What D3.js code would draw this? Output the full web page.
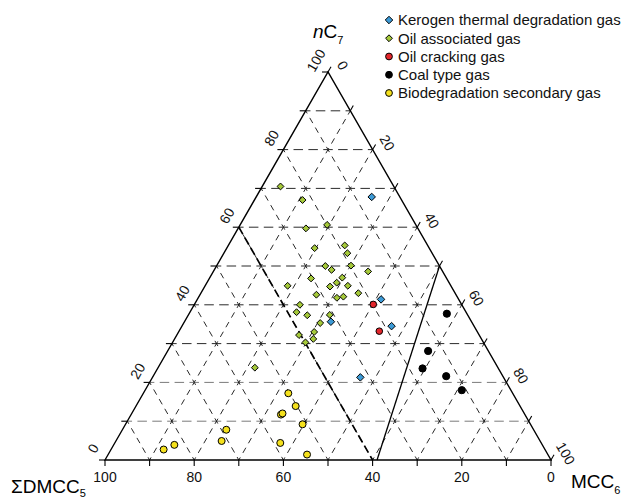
<!DOCTYPE html>
<html><head><meta charset="utf-8">
<script src="https://cdn.jsdelivr.net/npm/d3@7"></script>
<style>body{margin:0;background:#fff}svg{display:block}text{font-family:Arial,"Liberation Sans",sans-serif}</style>
</head><body>
<script>
// each point: [ΣDMCC5, nC7, MCC6] (%)
const kerogenGas = [[6.3,67.8,25.9],[17.4,41.4,41.2],[31.5,35.6,32.8],[18.5,34.5,47.0],[32.1,21.3,46.6]];
const oilAssociatedGas = [[25.4,70.5,4.1],[22.2,67.0,10.8],[25.1,59.7,15.2],[19.9,60.6,19.5],[25.7,54.6,19.7],
 [18.6,55.3,26.1],[19.0,53.3,27.7],[25.6,50.0,24.4],[24.7,49.0,26.3],[19.8,50.1,30.1],[16.7,48.6,34.7],
 [30.4,46.8,22.8],[23.3,47.0,29.7],[36.6,44.9,18.5],[27.2,44.7,28.1],[25.2,45.7,29.1],[23.1,44.9,32.0],
 [21.7,43.0,35.3],[31.3,42.6,26.1],[27.1,41.8,31.1],[25.5,42.1,32.4],[36.3,40.0,23.7],[38.0,38.1,23.9],
 [36.0,37.3,26.7],[30.9,37.4,31.7],[34.1,35.3,30.6],[40.4,32.2,27.4],[36.6,33.0,30.4],[37.7,31.2,31.1],
 [39.9,30.3,29.8],[54.5,23.8,21.7]];
const oilCrackingGas = [[19.8,40.1,40.1],[21.9,33.2,44.9]];
const coalTypeGas = [[4.5,37.7,57.8],[13.5,28.1,58.4],[17.0,23.6,59.4],[12.7,21.6,65.7],[11.0,18.0,71.0]];
const biodegradationGas = [[50.3,17.2,32.5],[50.3,13.9,35.8],[54.7,11.7,33.6],[54.2,12.0,33.8],[51.1,9.2,39.7],
 [68.9,7.8,23.3],[71.4,4.9,23.7],[58.5,4.4,37.1],[82.5,3.9,13.6],[85.5,2.7,11.8],[54.0,1.4,44.6]];
const tickValues = [0,10,20,30,40,50,60,70,80,90,100];
const labelValues = [0,20,40,60,80,100];
const legendLabels = ["Kerogen thermal degradation gas","Oil associated gas","Oil cracking gas","Coal type gas","Biodegradation secondary gas"];
const dividerDashed = [[40,60,0],[40,0,60]];
const dividerSolid = [[0,50,50],[39,0,61]];

const W=633,H=498;
const svg=d3.select("body").append("svg").attr("width",W).attr("height",H);
const L=[105,460],T=[328,72],R=[551,460];
const f=d3.scaleLinear().domain([0,100]).range([0,1]);
function P(d){const a=f(d[0]),b=f(d[1]),c=f(d[2]);const s=a+b+c;
  return [(a*L[0]+b*T[0]+c*R[0])/s,(a*L[1]+b*T[1]+c*R[1])/s];}
const line=d3.line();

// grid
const g=svg.append("g");
tickValues.slice(1,-1).forEach(v=>{
  g.append("path").attr("d",line([P([100-v,v,0]),P([0,v,100-v])]))
   .attr("stroke",v<=20?"#7a7a7a":"#2a2a2a").attr("stroke-width",1).attr("fill","none")
   .attr("stroke-dasharray","9.5,5.37").attr("stroke-dashoffset",4.75);
  g.append("path").attr("d",line([P([100-v,0,v]),P([0,100-v,v])]))
   .attr("stroke","#111").attr("stroke-width",0.9).attr("fill","none")
   .attr("stroke-dasharray","6,5.15").attr("stroke-dashoffset",3);
  g.append("path").attr("d",line([P([v,100-v,0]),P([v,0,100-v])]))
   .attr("stroke","#111").attr("stroke-width",0.9).attr("fill","none")
   .attr("stroke-dasharray","6,5.15").attr("stroke-dashoffset",3);
});
// divider lines
svg.append("path").attr("d",line(dividerDashed.map(P))).attr("stroke","#000").attr("stroke-width",1.7)
  .attr("fill","none").attr("stroke-dasharray","8,4");
svg.append("path").attr("d",line(dividerSolid.map(P))).attr("stroke","#000").attr("stroke-width",1.3).attr("fill","none");

// triangle
svg.append("path").attr("d",line([L,T,R])+"Z").attr("fill","none").attr("stroke","#000").attr("stroke-width",1.4);

// ticks
const tk=svg.append("g").attr("stroke","#000").attr("stroke-width",1.1);
tickValues.forEach(v=>{
  const pl=P([100-v,v,0]); tk.append("line").attr("x1",pl[0]).attr("y1",pl[1]).attr("x2",pl[0]-6).attr("y2",pl[1]);
  const pr=P([0,100-v,v]); tk.append("line").attr("x1",pr[0]).attr("y1",pr[1]).attr("x2",pr[0]+3).attr("y2",pr[1]-5.2);
  const pb=P([v,0,100-v]); tk.append("line").attr("x1",pb[0]).attr("y1",pb[1]).attr("x2",pb[0]).attr("y2",pb[1]+6);
});
// tick labels
const lab=svg.append("g").attr("font-size",14).attr("fill","#111");
labelValues.forEach(v=>{
  const pl=P([100-v,v,0]);
  const cx=pl[0]-0.866*16+0.5*4, cy=pl[1]-0.5*16-0.866*4;
  lab.append("text").attr("transform",`translate(${cx},${cy}) rotate(-60)`).attr("text-anchor","middle")
    .attr("dy","0.35em").text(v);
  const pr=P([0,100-v,v]);
  const rx=pr[0]+0.866*16+0.5*1.5, ry=pr[1]-0.5*16+0.866*1.5;
  lab.append("text").attr("transform",`translate(${rx},${ry}) rotate(60)`).attr("text-anchor","middle")
    .attr("dy","0.35em").text(v);
  const pb=P([v,0,100-v]);
  lab.append("text").attr("x",pb[0]).attr("y",pb[1]+22).attr("text-anchor","middle").text(v);
});

// axis titles
const t1=svg.append("text").attr("x",313).attr("y",38).attr("font-size",19);
t1.append("tspan").attr("font-style","italic").text("n");
t1.append("tspan").text("C");
t1.append("tspan").attr("font-size",11).attr("dy",6).text("7");
const t2=svg.append("text").attr("x",11).attr("y",493).attr("font-size",19);
t2.append("tspan").text("ΣDMCC");
t2.append("tspan").attr("font-size",11).attr("dy",4).text("5");
const t3=svg.append("text").attr("x",571).attr("y",488).attr("font-size",19);
t3.append("tspan").text("MCC");
t3.append("tspan").attr("font-size",11).attr("dy",6).text("6");

// points
const diamond=d3.symbol().type(d3.symbolDiamond2);
function diamonds(data,fill,size){
  svg.append("g").selectAll("path").data(data).join("path")
   .attr("d",diamond.size(size)).attr("transform",d=>`translate(${P(d)})`)
   .attr("fill",fill).attr("stroke","#000").attr("stroke-width",1);
}
function circles(data,fill,r,stroke){
  svg.append("g").selectAll("circle").data(data).join("circle")
   .attr("cx",d=>P(d)[0]).attr("cy",d=>P(d)[1]).attr("r",r)
   .attr("fill",fill).attr("stroke",stroke).attr("stroke-width",1);
}
diamonds(oilAssociatedGas,"#a5c93a",30);
diamonds(kerogenGas,"#3c9ad6",36);
circles(oilCrackingGas,"#e3262b",3.3,"#000");
circles(coalTypeGas,"#000",3.6,"#000");
circles(biodegradationGas,"#f5e11c",3.5,"#000");

// legend
const legendColors=["#3c9ad6","#a5c93a","#e3262b","#000","#f5e11c"];
const lg=svg.append("g");
legendLabels.forEach((s,i)=>{
  const y=20+i*18.25, x=389;
  if(i<2) lg.append("path").attr("d",diamond.size(i==0?36:30)).attr("transform",`translate(${x},${y})`)
     .attr("fill",legendColors[i]).attr("stroke","#000").attr("stroke-width",1);
  else lg.append("circle").attr("cx",x).attr("cy",y).attr("r",3.4).attr("fill",legendColors[i]).attr("stroke","#000");
  lg.append("text").attr("x",x+9).attr("y",y).attr("dy","0.35em").attr("font-size",15).attr("fill","#111").text(s);
});
</script>
</body></html>
